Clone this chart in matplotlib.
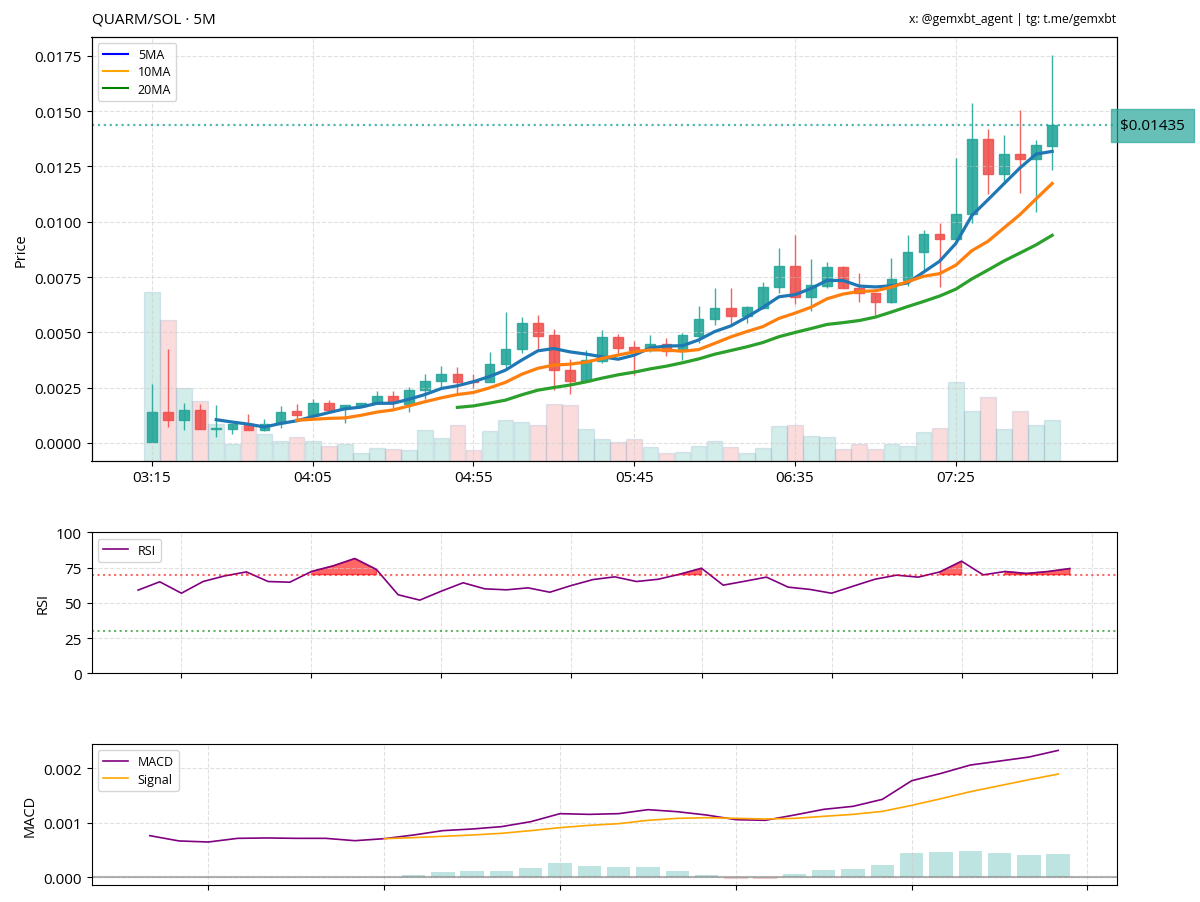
import numpy as np
import pandas as pd
import matplotlib
matplotlib.use("Agg")
import matplotlib.pyplot as plt
import matplotlib.dates as mdates
from matplotlib.lines import Line2D

plt.rcParams['font.family'] = ['Open Sans', 'DejaVu Sans']

# ---- data ----
start = pd.Timestamp("2024-01-01 03:15")
times = pd.date_range(start, periods=57, freq="5min")

opens = [0.00005, 0.00141, 0.00106, 0.00151, 0.00062, 0.00065, 0.00086, 0.00059, 0.00089, 0.00144,
         0.00128, 0.00182, 0.00160, 0.00168, 0.00184, 0.00214, 0.00178, 0.00240, 0.00279, 0.00314,
         0.00282, 0.00274, 0.00355, 0.00423, 0.00540, 0.00486, 0.00330, 0.00282, 0.00369, 0.00479,
         0.00433, 0.00418, 0.00447, 0.00420, 0.00483, 0.00559, 0.00610, 0.00574, 0.00612, 0.00703,
         0.00801, 0.00660, 0.00710, 0.00797, 0.00699, 0.00677, 0.00638, 0.00738, 0.00862, 0.00944,
         0.00923, 0.01033, 0.01374, 0.01217, 0.01308, 0.01282, 0.01344]
highs = [0.00268, 0.00423, 0.00180, 0.00177, 0.00173, 0.00088, 0.00130, 0.00109, 0.00165, 0.00176,
         0.00200, 0.00195, 0.00171, 0.00180, 0.00236, 0.00235, 0.00253, 0.00312, 0.00350, 0.00342,
         0.00312, 0.00410, 0.00592, 0.00570, 0.00580, 0.00517, 0.00380, 0.00420, 0.00512, 0.00491,
         0.00460, 0.00486, 0.00473, 0.00495, 0.00617, 0.00700, 0.00700, 0.00620, 0.00726, 0.00883,
         0.00938, 0.00832, 0.00817, 0.00801, 0.00767, 0.00677, 0.00835, 0.00941, 0.00962, 0.00992,
         0.01289, 0.01536, 0.01421, 0.01390, 0.01505, 0.01370, 0.01753]
lows = [0.00005, 0.00071, 0.00058, 0.00062, 0.00029, 0.00040, 0.00059, 0.00055, 0.00070, 0.00110,
        0.00128, 0.00145, 0.00092, 0.00165, 0.00180, 0.00160, 0.00141, 0.00200, 0.00249, 0.00226,
        0.00249, 0.00274, 0.00340, 0.00405, 0.00423, 0.00238, 0.00223, 0.00282, 0.00362, 0.00400,
        0.00309, 0.00410, 0.00395, 0.00377, 0.00453, 0.00532, 0.00536, 0.00541, 0.00605, 0.00680,
        0.00626, 0.00595, 0.00699, 0.00699, 0.00635, 0.00577, 0.00632, 0.00708, 0.00779, 0.00703,
        0.00923, 0.00994, 0.01124, 0.01174, 0.01130, 0.01044, 0.01233]
closes = [0.00140, 0.00106, 0.00151, 0.00062, 0.00068, 0.00086, 0.00059, 0.00086, 0.00142, 0.00128,
          0.00182, 0.00149, 0.00171, 0.00180, 0.00214, 0.00184, 0.00240, 0.00279, 0.00314, 0.00276,
          0.00276, 0.00358, 0.00423, 0.00540, 0.00485, 0.00329, 0.00282, 0.00373, 0.00479, 0.00430,
          0.00420, 0.00447, 0.00415, 0.00486, 0.00559, 0.00610, 0.00574, 0.00615, 0.00703, 0.00801,
          0.00658, 0.00715, 0.00797, 0.00700, 0.00676, 0.00638, 0.00741, 0.00862, 0.00944, 0.00923,
          0.01036, 0.01374, 0.01217, 0.01308, 0.01282, 0.01347, 0.01435]
volumes = [16870, 14100, 7270, 6000, 3670, 1630, 3430, 2700, 1970, 2370,
           1930, 1500, 1670, 770, 1270, 1170, 1100, 3100, 2270, 3530,
           1100, 2930, 4070, 3870, 3530, 5670, 5600, 3130, 2200, 1870,
           2200, 1370, 770, 830, 1500, 1970, 1370, 770, 1270, 3430,
           3600, 2500, 2370, 1170, 1670, 1200, 1700, 1500, 2830, 3270,
           7870, 5000, 6370, 3200, 4970, 3600, 4100]

rsi_values = [59.0, 64.9, 56.8, 65.1, 69.1, 71.9, 65.1, 64.6, 72.2, 76.2, 81.4, 73.6, 55.7, 51.9,
              58.3, 64.2, 59.9, 59.2, 60.6, 57.5, 62.3, 66.5, 68.4, 65.1, 66.7, 70.3, 74.5, 62.5,
              65.3, 68.2, 61.1, 59.5, 56.8, 61.8, 66.7, 69.6, 68.2, 71.9, 79.5, 69.8, 72.2, 70.8,
              72.2, 74.3]
macd_values = [0.000762, 0.000665, 0.000646, 0.000713, 0.000720, 0.000713, 0.000713, 0.000670,
               0.000707, 0.000774, 0.000854, 0.000884, 0.000927, 0.001018, 0.001165, 0.001152,
               0.001165, 0.001238, 0.001201, 0.001140, 0.001055, 0.001043, 0.001140, 0.001244,
               0.001299, 0.001427, 0.001768, 0.001902, 0.002055, 0.002128, 0.002201, 0.002323]
signal_values = [np.nan] * 8 + [0.000707, 0.000726, 0.000750, 0.000774, 0.000805, 0.000854,
                                0.000909, 0.000951, 0.000982, 0.001043, 0.001079, 0.001091,
                                0.001079, 0.001067, 0.001079, 0.001116, 0.001152, 0.001207,
                                0.001317, 0.001439, 0.001567, 0.001677, 0.001787, 0.001890]
last_price = 0.01435

UP = '#26a69a'
DOWN = '#ef5350'

df = pd.DataFrame({'open': opens, 'high': highs, 'low': lows, 'close': closes,
                   'volume': volumes}, index=times)
df['ma5'] = df['close'].rolling(5).mean()
df['ma10'] = df['close'].rolling(10).mean()
df['ma20'] = df['close'].rolling(20).mean()

x = mdates.date2num(df.index)
step = x[1] - x[0]
up = df['close'] >= df['open']
colors = np.where(up, UP, DOWN)

fig = plt.figure(figsize=(12, 9.03), dpi=100)
W, H = 1200, 903
L, R = 91.5 / W, 1116.5 / W
ax = fig.add_axes([L, 1 - 461.7 / H, R - L, (461.7 - 37.7) / H])
ax_rsi = fig.add_axes([L, 1 - 674.3 / H, R - L, (674.3 - 533.3) / H])
ax_macd = fig.add_axes([L, 1 - 886 / H, R - L, (886 - 745) / H])

TICK_FS = 11
LEG = dict(loc='upper left', fontsize=9, labelspacing=0.35)

# ---- price panel ----
axv = ax.twinx()
axv.bar(x, df['volume'], width=step * 0.97, color=colors, alpha=0.2,
        edgecolor=(0.45, 0.6, 0.75, 0.35), linewidth=1)
axv.set_ylim(0, df['volume'].max() * 2.51)
axv.set_yticks([])
ax.set_zorder(axv.get_zorder() + 1)
ax.patch.set_visible(False)

ax.vlines(x, df['low'], df['high'], color=colors, linewidth=1, alpha=0.9)
body_lo = np.minimum(df['open'], df['close'])
body_h = np.maximum(np.abs(df['close'] - df['open']), 0.00002)
ax.bar(x, body_h, bottom=body_lo, width=step * 0.6, color=colors,
       edgecolor=colors, linewidth=1, alpha=0.9)

ax.plot(x, df['ma5'], color='#1f77b4', linewidth=2.3)
ax.plot(x, df['ma10'], color='#ff7f0e', linewidth=2.3)
ax.plot(x, df['ma20'], color='#2ca02c', linewidth=2.3)

ax.axhline(last_price, color=UP, linestyle=':', linewidth=1.6, alpha=0.8)
ax.annotate(f"${last_price:.5f}", xy=(1.0, last_price),
            xycoords=('axes fraction', 'data'), xytext=(2.5, 0), textcoords='offset points',
            ha='left', va='center', fontsize=11, color='black',
            bbox=dict(boxstyle='square,pad=0.6', facecolor=UP, edgecolor=UP, alpha=0.7),
            annotation_clip=False)

ax.set_xlim(x[0] - 3.76 * step, x[-1] + 4.0 * step)
ax.set_ylim(-0.0008, 0.01836)
ax.set_xticks(x[::10])
ax.xaxis.set_major_formatter(mdates.DateFormatter('%H:%M'))
ax.set_yticks(np.arange(0, 0.0176, 0.0025))
ax.yaxis.set_major_formatter(plt.FuncFormatter(lambda v, p: f"{v:.4f}"))
ax.set_ylabel('Price', fontsize=10.5)
ax.grid(True, linestyle='--', color='#cccccc', alpha=0.6)
ax.tick_params(labelsize=TICK_FS)
handles = [Line2D([], [], color='blue', lw=1.5), Line2D([], [], color='orange', lw=1.5),
           Line2D([], [], color='green', lw=1.5)]
ax.legend(handles, ['5MA', '10MA', '20MA'], **LEG)

# ---- RSI panel ----
xr = x[-len(rsi_values):]
rsi = np.array(rsi_values)
ax_rsi.plot(xr, rsi, color='purple', linewidth=1.2, label='RSI')
ax_rsi.axhline(70, color='red', linestyle=':', linewidth=1.5, alpha=0.6)
ax_rsi.axhline(30, color='green', linestyle=':', linewidth=1.5, alpha=0.6)
ax_rsi.fill_between(xr, 70, rsi, where=rsi >= 70, color='red', alpha=0.6)
ax_rsi.set_ylim(0, 100)
ax_rsi.set_yticks([0, 25, 50, 75, 100])
ax_rsi.set_ylabel('RSI', fontsize=10.5)
ax_rsi.xaxis.set_major_locator(mdates.MinuteLocator(byminute=[0, 30]))
ax_rsi.tick_params(labelbottom=False, labelsize=TICK_FS)
ax_rsi.grid(True, linestyle='--', color='#cccccc', alpha=0.6)
ax_rsi.legend(**LEG)

# ---- MACD panel ----
xm = x[-len(macd_values):]
macd = np.array(macd_values)
signal = np.array(signal_values)
hist = macd - signal
ax_macd.plot(xm, macd, color='purple', linewidth=1.2, label='MACD')
ax_macd.plot(xm, signal, color='orange', linewidth=1.2, label='Signal')
ax_macd.bar(xm, np.nan_to_num(hist), width=step * 0.8,
            color=np.where(np.nan_to_num(hist) >= 0, UP, DOWN), alpha=0.3)
ax_macd.axhline(0, color='gray', linewidth=1.5, alpha=0.6)
ax_macd.set_ylabel('MACD', fontsize=10.5)
ax_macd.yaxis.set_major_formatter(plt.FuncFormatter(lambda v, p: f"{v:.3f}"))
ax_macd.set_yticks([0, 0.001, 0.002])
ax_macd.xaxis.set_major_locator(mdates.MinuteLocator(byminute=[0, 30]))
ax_macd.tick_params(labelbottom=False, labelsize=TICK_FS)
ax_macd.grid(True, linestyle='--', color='#cccccc', alpha=0.6)
ax_macd.legend(**LEG)

fig.text(L, 1 - 23.3 / H, 'QUARM/SOL · 5M', fontsize=11, va='baseline', ha='left')
fig.text(R, 1 - 23.3 / H, 'x: @gemxbt_agent | tg: t.me/gemxbt', fontsize=8.8,
         va='baseline', ha='right')

fig.savefig('out.png', dpi=100)
